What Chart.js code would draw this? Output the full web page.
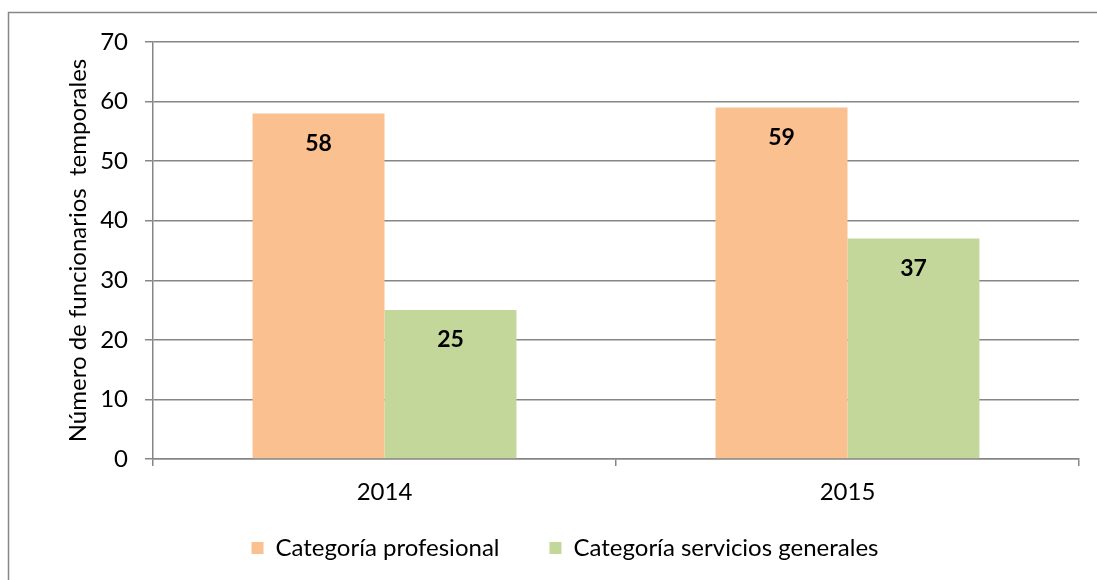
<!DOCTYPE html>
<html>
<head>
<meta charset="utf-8">
<script src="https://cdn.jsdelivr.net/npm/chart.js@4/dist/chart.umd.min.js"></script>
<style>
  html, body { margin: 0; padding: 0; background: #fff; }
  #grafico { display: block; }
</style>
</head>
<body>
<canvas id="grafico" width="1097" height="580"></canvas>
<script>
// datos
const anios = ['2014', '2015']
const categoriaProfesional = [58, 59]
const categoriaServiciosGenerales = [25, 37]
const nombresSeries = ['Categoría profesional', 'Categoría servicios generales']
const tituloEjeY = 'Número de funcionarios  temporales'

const FUENTE = 'Lato, Calibri, Carlito, sans-serif'
const GRIS = '#868686'
const MARGEN_IZQ = 51

// marco exterior del grafico (como en excel)
const marcoExterior = {
    id: 'marcoExterior',
    beforeDraw(chart) {
        const ctx = chart.ctx
        ctx.save()
        ctx.fillStyle = '#fff'
        ctx.fillRect(0, 0, chart.width, chart.height)
        ctx.strokeStyle = GRIS
        ctx.lineWidth = 1.5
        ctx.strokeRect(8.5, 12.5, chart.width + 20, chart.height + 20)
        ctx.restore()
    }
}

// etiquetas de valor dentro de la barra
const etiquetasValor = {
    id: 'etiquetasValor',
    afterDatasetsDraw(chart) {
        const ctx = chart.ctx
        ctx.save()
        ctx.font = `bold 23px ${FUENTE}`
        ctx.fillStyle = '#000'
        ctx.textAlign = 'center'
        ctx.textBaseline = 'middle'
        chart.data.datasets.forEach((ds, i) => {
            chart.getDatasetMeta(i).data.forEach((bar, j) => {
                ctx.fillText(ds.data[j], bar.x, bar.y + 30)
            })
        })
        ctx.restore()
    }
}

const grafico = new Chart(document.getElementById('grafico'), {
    type: 'bar',
    data: {
        labels: anios,
        datasets: [
            {
                label: nombresSeries[0],
                data: categoriaProfesional,
                backgroundColor: '#FAC090',
                categoryPercentage: 0.57,
                barPercentage: 1
            },
            {
                label: nombresSeries[1],
                data: categoriaServiciosGenerales,
                backgroundColor: '#C4D79B',
                categoryPercentage: 0.57,
                barPercentage: 1
            }
        ]
    },
    options: {
        responsive: false,
        animation: false,
        layout: {
            padding: { left: MARGEN_IZQ, right: 18, top: 42, bottom: 10 }
        },
        plugins: {
            legend: {
                position: 'bottom',
                labels: {
                    color: '#000',
                    font: { family: FUENTE, size: 24 },
                    boxWidth: 12,
                    boxHeight: 12,
                    padding: 50
                }
            },
            tooltip: { enabled: false }
        },
        scales: {
            x: {
                ticks: {
                    color: '#000',
                    font: { family: FUENTE, size: 24 },
                    padding: 12
                },
                grid: {
                    drawOnChartArea: false,
                    drawTicks: true,
                    tickLength: 7,
                    color: GRIS,
                    lineWidth: 1.5
                },
                border: { color: GRIS, width: 1.5 },
                afterFit: function (scale) {
                    // la leyenda queda pegada al eje, sin recortar los años
                    scale.height = 27
                    scale._computeLabelArea = () => undefined
                }
            },
            y: {
                min: 0,
                max: 70,
                ticks: {
                    stepSize: 10,
                    color: '#000',
                    font: { family: FUENTE, size: 24 },
                    padding: 17
                },
                grid: {
                    color: GRIS,
                    lineWidth: 1.5,
                    tickLength: 8
                },
                border: { color: GRIS, width: 1.5 },
                title: {
                    display: true,
                    text: tituloEjeY,
                    color: '#000',
                    font: { family: FUENTE, size: 24 },
                    padding: { top: 13, bottom: 0 }
                },
                afterFit: function (scale) {
                    scale.width = 153 - MARGEN_IZQ
                }
            }
        }
    },
    plugins: [marcoExterior, etiquetasValor]
})
</script>
</body>
</html>
